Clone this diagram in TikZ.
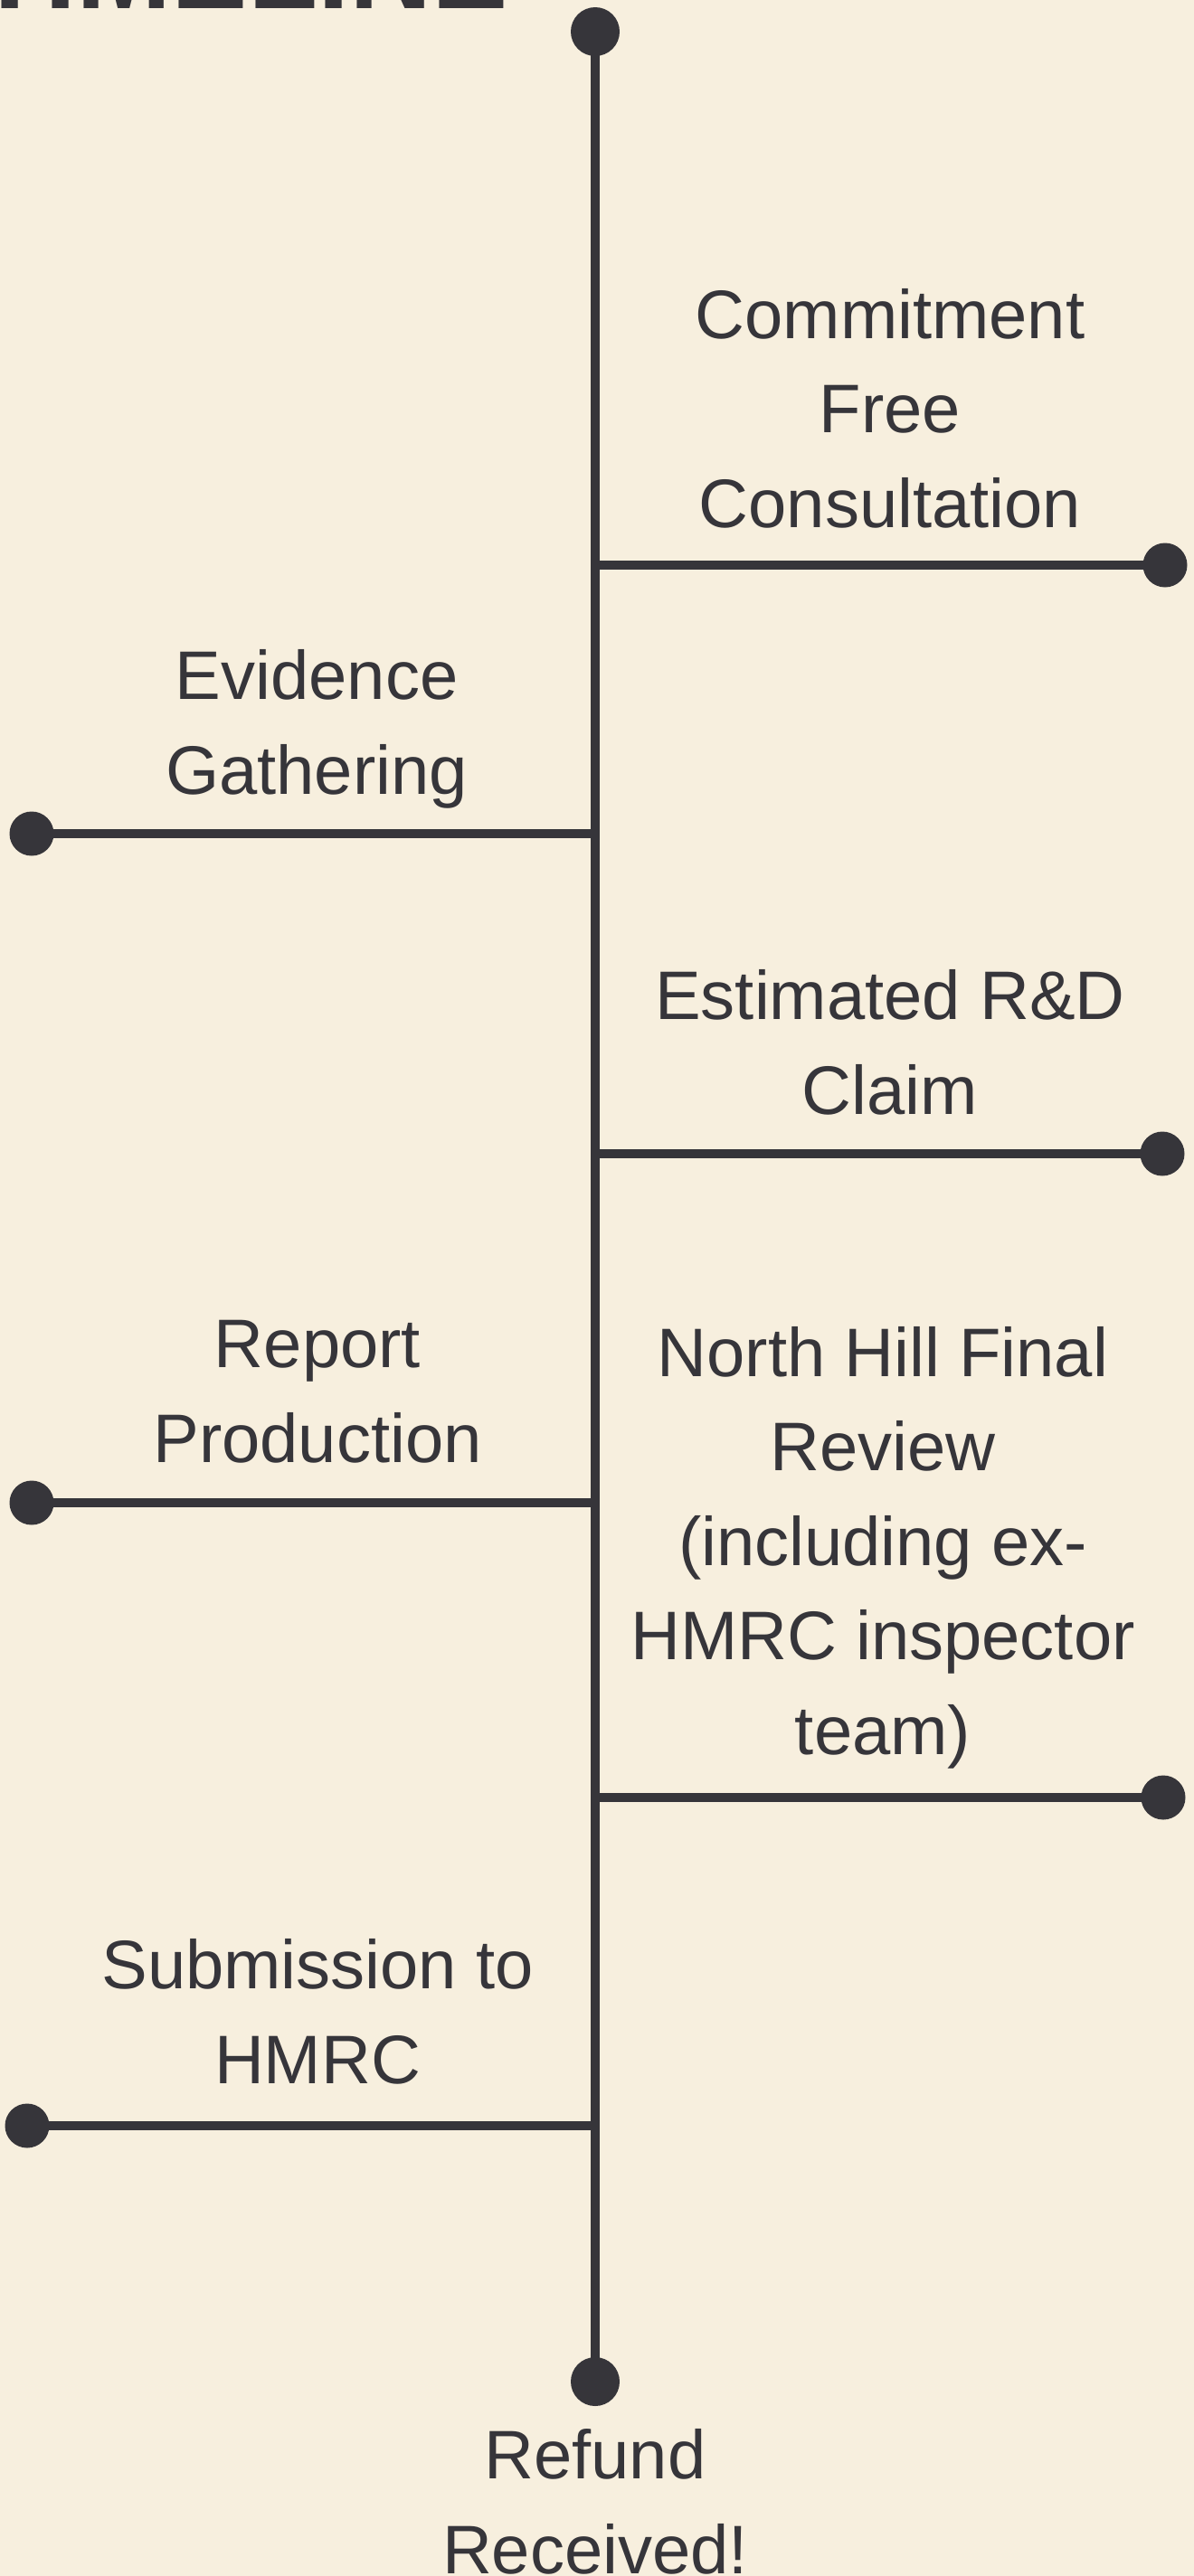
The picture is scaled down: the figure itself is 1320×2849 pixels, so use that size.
\documentclass[tikz,border=0pt]{standalone}
\usepackage{fontspec}
\setmainfont{Liberation Sans}
\definecolor{bg}{HTML}{F7EFDE}
\definecolor{ink}{HTML}{36353A}
\begin{document}
\begin{tikzpicture}[x=1pt,y=-1pt,
  spine/.style={draw=ink, line width=10pt},
  enddot/.style={circle, fill=ink, minimum size=54pt, inner sep=0pt},
  sidedot/.style={circle, fill=ink, minimum size=49pt, inner sep=0pt},
  steptext/.style={text=ink, align=center, anchor=base, inner sep=0pt,
    font=\fontsize{76}{104.5}\selectfont},
]
\fill[bg] (0,0) rectangle (1320,2849);
\useasboundingbox (0,0) rectangle (1320,2849);

% title (cut off at the top)
\node[anchor=base west, text=ink, inner sep=0pt, xscale=0.8,
  font=\fontsize{158}{158}\selectfont\bfseries] (title) at (-28,9) {TIMELINE};

% spine
\node[enddot] (top) at (658,35) {};
\node[enddot] (bot) at (658,2634) {};
\draw[spine] (top.center) -- (bot.center);

% branches
\coordinate (j1) at (658,625);
\node[sidedot] (d1) at (1288,625) {};
\draw[spine] (j1) -- (d1.center);

\coordinate (j2) at (658,922);
\node[sidedot] (d2) at (35,922) {};
\draw[spine] (j2) -- (d2.center);

\coordinate (j3) at (658,1276);
\node[sidedot] (d3) at (1285,1276) {};
\draw[spine] (j3) -- (d3.center);

\coordinate (j4) at (658,1662);
\node[sidedot] (d4) at (35,1662) {};
\draw[spine] (j4) -- (d4.center);

\coordinate (j5) at (658,1988);
\node[sidedot] (d5) at (1286,1988) {};
\draw[spine] (j5) -- (d5.center);

\coordinate (j6) at (658,2351);
\node[sidedot] (d6) at (30,2351) {};
\draw[spine] (j6) -- (d6.center);

% labels (anchored at the baseline of their last line)
\node[steptext] (t1) at (984,583) {Commitment\\Free\\Consultation};
\node[steptext] (t2) at (350,878) {Evidence\\Gathering};
\node[steptext] (t3) at (984,1232) {Estimated R\&D\\Claim};
\node[steptext] (t4) at (351,1617) {Report\\Production};
\node[steptext] (t5) at (976,1940) {North Hill Final\\Review\\(including ex-\\HMRC inspector\\team)};
\node[steptext] (t6) at (351,2304) {Submission to\\HMRC};
\node[steptext] (t7) at (658,2846) {Refund\\Received!};
\end{tikzpicture}
\end{document}
